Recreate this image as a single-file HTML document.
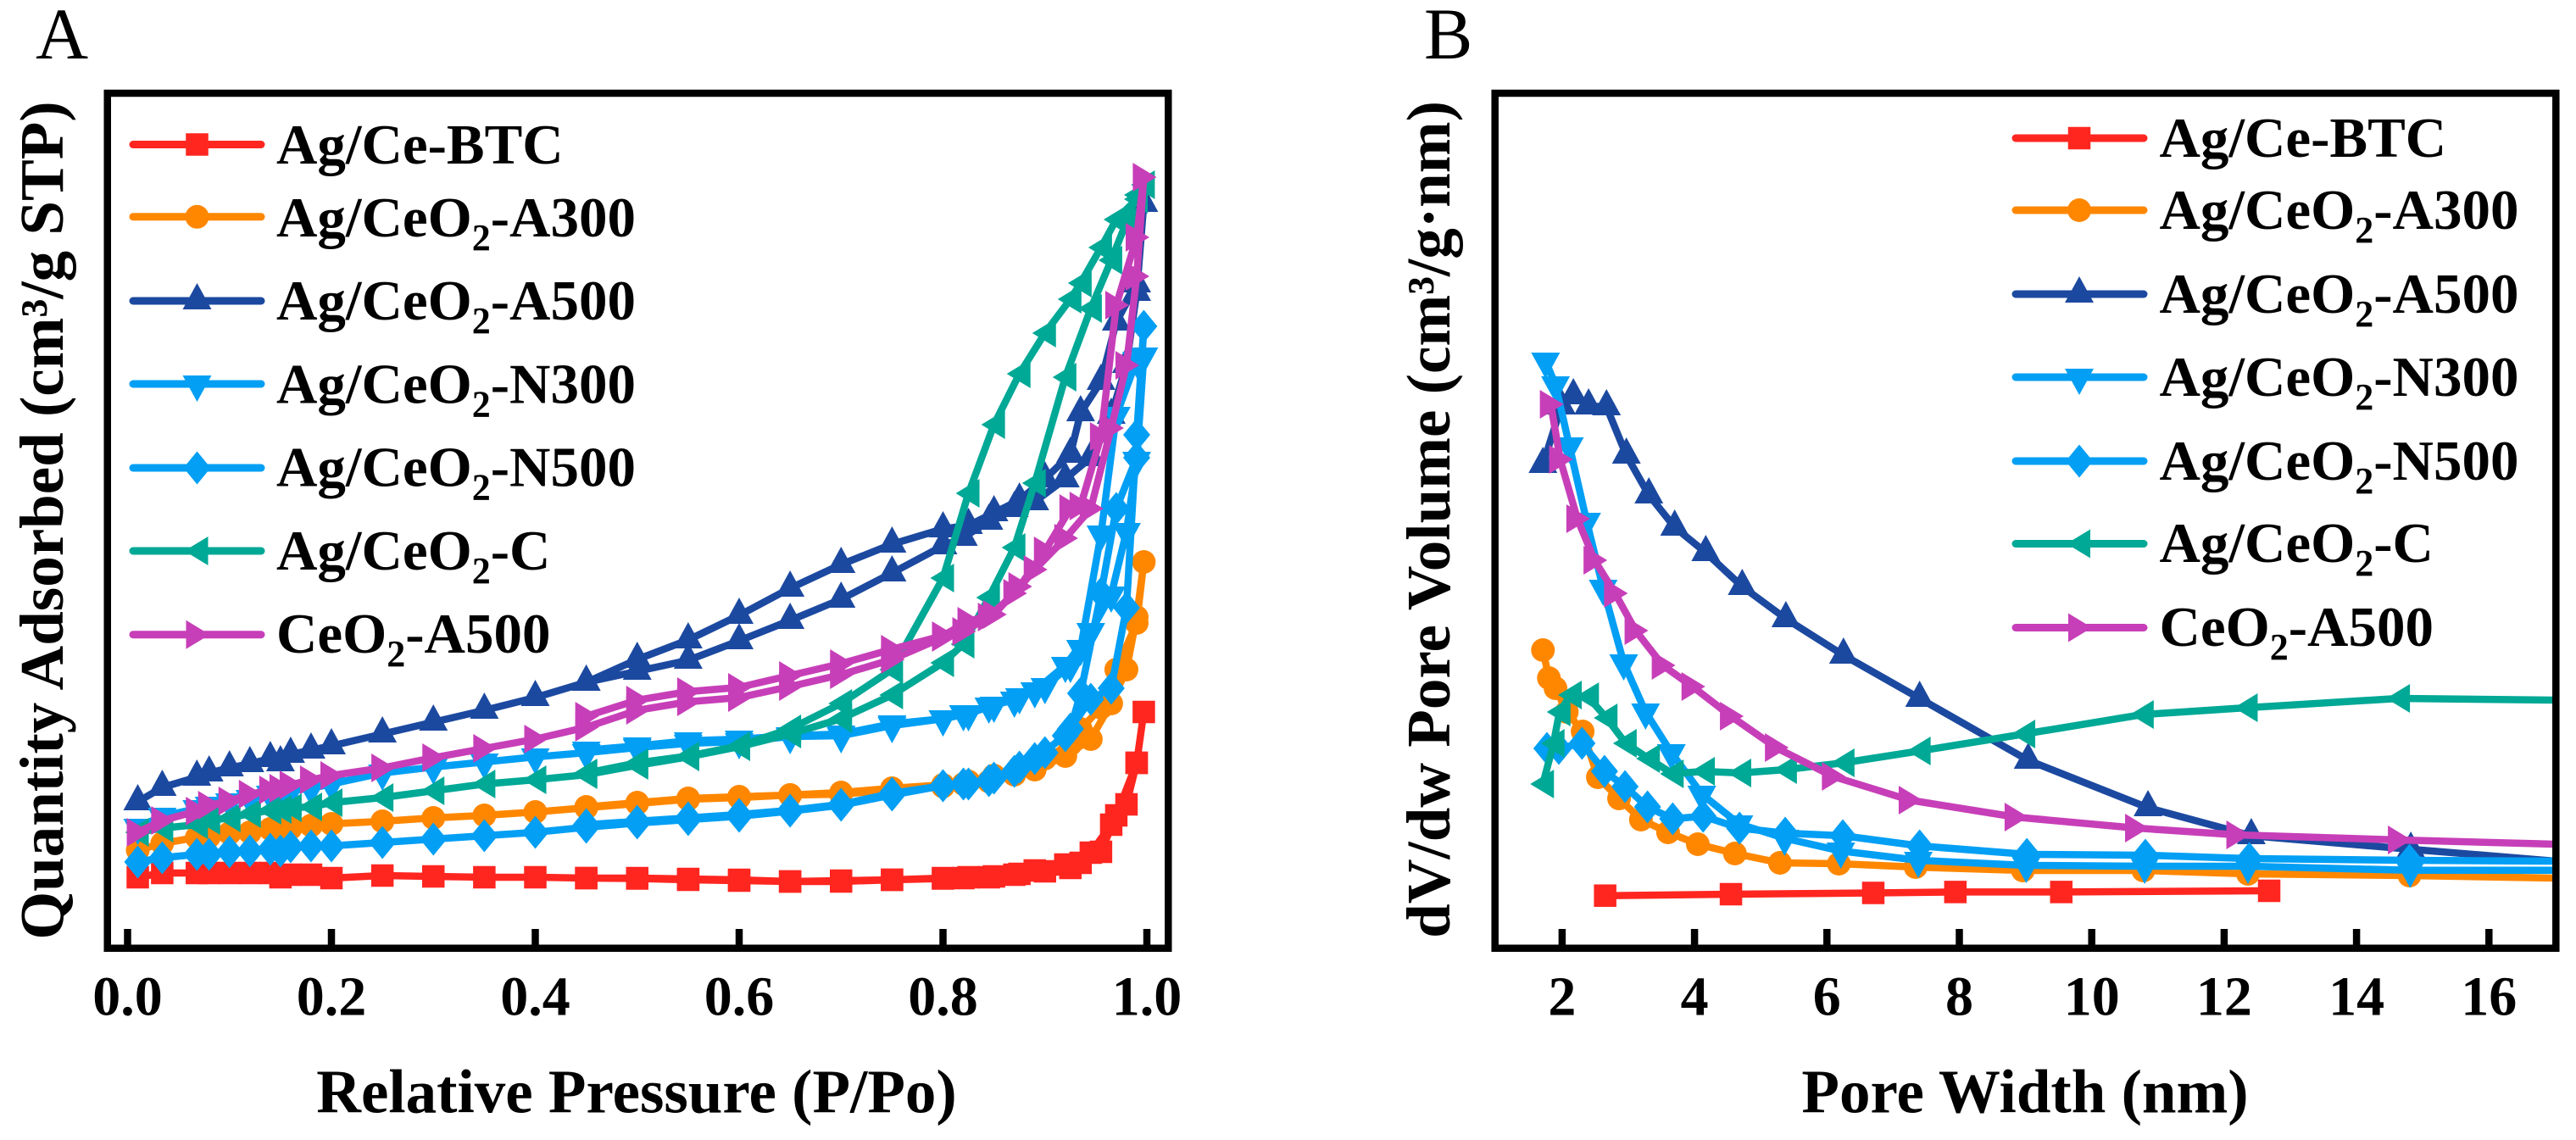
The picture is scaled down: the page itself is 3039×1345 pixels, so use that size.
<!DOCTYPE html>
<html lang="en">
<head>
<meta charset="utf-8">
<title>Isotherms and pore size distribution</title>
<style>
html,body{margin:0;padding:0;background:#fff;width:3039px;height:1345px;overflow:hidden}
svg{display:block}
text{font-family:"Liberation Serif",serif;fill:#000}
.b{font-weight:bold}
.leg{font-weight:bold;font-size:67px}
.sub{font-size:44px}
.title{font-weight:bold;font-size:73px}
.tick{font-weight:bold;font-size:66px;text-anchor:middle}
</style>
</head>
<body>
<svg id="fig" xmlns="http://www.w3.org/2000/svg" width="3039" height="1345" viewBox="0 0 3039 1345">
  <rect x="0" y="0" width="3039" height="1345" fill="#fff"/>
  <text x="42" y="69" font-size="86">A</text>
  <text x="1680" y="69" font-size="86">B</text>

  <g id="plotA"></g>
  <g id="plotB"></g>

  <rect x="126.75" y="110" width="1251.5" height="1008.75" fill="none" stroke="#000" stroke-width="8.5"/>
  <rect x="1763.7" y="110" width="1251.6" height="1008.75" fill="none" stroke="#000" stroke-width="8.5"/>
  <g id="axisA"></g>
  <g id="axisB"></g>

  <text class="title" text-anchor="middle" transform="translate(74,614) rotate(-90)">Quantity Adsorbed (cm³/g STP)</text>
  <text class="title" text-anchor="middle" transform="translate(1710,613) rotate(-90)">dV/dw Pore Volume (cm³/g·nm)</text>
  <text class="title" text-anchor="middle" x="751" y="1312.7">Relative Pressure (P/Po)</text>
  <text class="title" text-anchor="middle" x="2389" y="1312.7">Pore Width (nm)</text>

  <g id="legendA">
    <text class="leg" x="326" y="193">Ag/Ce-BTC</text>
    <text class="leg" x="326" y="279">Ag/CeO<tspan class="sub" dy="16">2</tspan><tspan dy="-16">-A300</tspan></text>
    <text class="leg" x="326" y="377">Ag/CeO<tspan class="sub" dy="16">2</tspan><tspan dy="-16">-A500</tspan></text>
    <text class="leg" x="326" y="475.5">Ag/CeO<tspan class="sub" dy="16">2</tspan><tspan dy="-16">-N300</tspan></text>
    <text class="leg" x="326" y="573.7">Ag/CeO<tspan class="sub" dy="16">2</tspan><tspan dy="-16">-N500</tspan></text>
    <text class="leg" x="326" y="672">Ag/CeO<tspan class="sub" dy="16">2</tspan><tspan dy="-16">-C</tspan></text>
    <text class="leg" x="326" y="770">CeO<tspan class="sub" dy="16">2</tspan><tspan dy="-16">-A500</tspan></text>
  </g>
  <g id="legendB">
    <text class="leg" x="2547.5" y="185">Ag/Ce-BTC</text>
    <text class="leg" x="2547.5" y="270">Ag/CeO<tspan class="sub" dy="16">2</tspan><tspan dy="-16">-A300</tspan></text>
    <text class="leg" x="2547.5" y="369">Ag/CeO<tspan class="sub" dy="16">2</tspan><tspan dy="-16">-A500</tspan></text>
    <text class="leg" x="2547.5" y="467">Ag/CeO<tspan class="sub" dy="16">2</tspan><tspan dy="-16">-N300</tspan></text>
    <text class="leg" x="2547.5" y="566">Ag/CeO<tspan class="sub" dy="16">2</tspan><tspan dy="-16">-N500</tspan></text>
    <text class="leg" x="2547.5" y="663">Ag/CeO<tspan class="sub" dy="16">2</tspan><tspan dy="-16">-C</tspan></text>
    <text class="leg" x="2547.5" y="762">CeO<tspan class="sub" dy="16">2</tspan><tspan dy="-16">-A500</tspan></text>
  </g>
</svg>
<script>
// Panel A: relative pressures
const pAds = [0.01,0.034,0.068,0.08,0.1,0.12,0.14,0.15,0.16,0.18,0.2,0.25,0.3,0.35,0.4,0.45,0.5,0.55,0.6,0.65,0.7,0.75,0.8,0.82,0.845,0.87,0.89,0.92,0.945,0.965,0.98,0.99,0.997];
const pDes = [0.99,0.97,0.955,0.935,0.925,0.9,0.875,0.85,0.825,0.8,0.75,0.7,0.65,0.6,0.55,0.5,0.45];
// Panel A: quantity adsorbed (adsorption, then desorption branch)
const btcAds = [8.5,9,9,9,9,9,9,8.5,8.8,8.8,8.4,8.7,8.6,8.5,8.5,8.4,8.35,8.2,8.1,8,8,8.2,8.35,8.4,8.5,8.8,9.3,10,11.4,14.7,17.1,22,28];
const btcDes = [22,15.8,11.5,10.2,9.6,9.2,8.9,8.6,8.5,8.4,8.2,8.1,8,8.2,8.3,8.4,8.4];
const a300Ads = [11.7,12.5,13.2,13.3,13.7,13.8,14.2,14.1,14.3,14.6,14.8,15.1,15.5,15.8,16.2,16.7,17.2,17.7,17.9,18.2,18.3,18.8,19.2,19.5,19.8,20.6,21.2,22.8,24.8,29,33,39.2,45.7];
const a300Des = [38.5,33,28.5,26,24.2,22.5,21.5,20.5,19.8,19.4,19,18.5,18.2,18,17.8,17.3,16.8];
const a500Ads = [17.4,19.1,20.3,20.8,21.4,21.9,22.5,22,23,23.5,24,25.4,26.8,28.2,29.7,31.5,32.8,34.1,36.4,38.8,41.3,44.4,47.6,48.6,50.5,52,52.8,55.5,58,63,69,77.5,88];
const a500Des = [78.5,74,67,63.3,58.4,55.5,53,51.5,50,49.6,47.8,45.4,42.6,39.4,36.5,34.2,31.5];
const n300Ads = [14.4,15.7,16.6,17,17.4,17.8,18.3,18.4,18.7,19,19.5,20.8,21.5,22.1,22.7,23.2,23.8,24.3,24.5,25.1,25.2,26.4,27.2,27.8,28.7,29.4,30.5,33.5,37.5,41.8,49.3,57.7,70];
const n300Des = [69.5,63,49,35.5,33.5,31,29.8,28.8,27.8,27.2,26.6,25.4,25.2,24.8,24.6,24,23.5];
const n500Ads = [10.3,10.8,11.2,11.2,11.5,11.6,11.8,11.6,12.1,12.2,12.2,12.6,13,13.4,13.8,14.4,14.9,15.3,15.7,16.3,17,18.2,19.3,19.5,19.9,21,22.5,25.2,29.5,30.8,40.3,60.7,73.5];
const n500Des = [58,52,42,30.2,26,23.2,21.5,20.2,19.5,19.3,18.4,17.1,16.4,15.9,15.5,15.1,14.7];
const cAds = [13.8,14.3,14.7,15.2,15.5,16,16.4,16.5,16.7,16.8,17.3,17.9,18.7,19.5,20,20.6,21.7,22.7,23.9,25.4,27.2,30,33.8,36,41.5,47.4,55,67.5,75.6,81.3,85.8,89,90.2];
const cDes = [88.5,86.1,82.8,78.6,76.7,72.7,67.9,61.9,53.8,43.8,33,29,26,24,22.8,22,20.8];
const ceoAds = [13.8,15.2,16.3,17,17.5,18.3,18.8,19,19.4,20,20.5,21.4,22.6,23.7,24.8,26.2,28.2,29.2,29.7,31,32.4,34.2,36.8,37.5,39.2,42,44.8,48.5,52,61.5,68.9,79.4,91.1];
const ceoDes = [84,76,60.5,52.3,52,47,42.8,39.5,38.7,37,35.4,33.7,32.3,30.9,30.4,29.4,27.5];

// Panel B: pore width and pore volume per series
const btcW = [2.65,4.55,6.7,7.94,9.54,12.68];
const btcV = [6.33,6.5,6.65,6.76,6.76,6.9];
const a300W = [1.71,1.8,1.9,2.07,2.31,2.54,2.86,3.19,3.6,4.05,4.61,5.29,6.18,7.34,8.96,10.78,12.36,14.8,17];
const a300V = [35.3,32,30.8,28,25.7,20.3,17.8,15.3,13.8,12.4,11.3,10.2,10.1,9.7,9.3,9.3,8.9,8.7,8.4];
const a500W = [1.71,1.99,2.17,2.4,2.67,2.97,3.31,3.7,4.17,4.72,5.38,6.25,7.4,9.04,10.85,12.41,14.82,17];
const a500V = [57.2,64.1,65.3,64.1,64,58.3,53.6,49.8,46.8,42.8,39,34.7,29.6,22.3,16.7,13.4,11.8,10.4];
const n300W = [1.75,1.9,2.11,2.37,2.62,2.93,3.26,3.65,4.11,4.67,5.36,6.21,7.38,9.01,10.8,12.36,14.81,17];
const n300V = [69.4,66.6,59.4,50.5,42.6,33.8,28,23.2,18.3,14.8,13.1,11.6,10.5,9.9,9.8,9.8,9.32,9.32];
const n500W = [1.77,1.95,2.3,2.64,2.95,3.29,3.67,4.13,4.68,5.37,6.24,7.4,9.02,10.81,12.38,14.8,17];
const n500V = [23.7,23.7,24.3,21,19.2,16.8,15.4,15.7,14.3,13.7,13.4,12.2,11.2,11.1,10.7,10.5,10.4];
const cW = [1.71,1.87,1.96,2.13,2.39,2.67,2.96,3.31,3.67,4.14,4.69,5.38,6.25,7.4,8.98,10.77,12.34,14.64,17];
const cV = [19.5,24.3,28,30,29.8,27.3,24.3,22.5,20.7,21,20.8,21.2,22,23.4,25.4,27.7,28.5,29.6,29.4];
const ceoW = [1.83,1.97,2.23,2.49,2.8,3.11,3.52,3.97,4.55,5.23,6.09,7.25,8.85,10.67,12.2,14.64,17];
const ceoV = [64.3,57.8,50.8,45.9,42,37.6,33.5,31,27.5,23.8,20.4,17.6,15.6,14.3,13.5,12.9,12.4];

// Tick labels
const tickA = [0,0.2,0.4,0.6,0.8,1];
const tickB = [2,4,6,8,10,12,14,16];
const widthAxisMax = 17;

const NS = 'http://www.w3.org/2000/svg';
const xA = function(p){ return 150.5 + p * 1202.5; };
const xB = function(w){ return 2467.7 + (w - 10) * 78.1; };
const yV = function(v){ return 1120 - v * 10; };

const styles = [
  {id:'ag-ce-btc', color:'#FF2620', shape:'square'},
  {id:'a300', color:'#FF8700', shape:'circle'},
  {id:'a500', color:'#1C49A0', shape:'up'},
  {id:'n300', color:'#039FF4', shape:'down'},
  {id:'n500', color:'#039FF4', shape:'diamond'},
  {id:'c', color:'#00A896', shape:'left'},
  {id:'ceo2-a500', color:'#C73FB8', shape:'right'}
];
const isotherms = [[btcAds,btcDes],[a300Ads,a300Des],[a500Ads,a500Des],[n300Ads,n300Des],[n500Ads,n500Des],[cAds,cDes],[ceoAds,ceoDes]];
const poreWidths = [btcW,a300W,a500W,n300W,n500W,cW,ceoW];
const poreValues = [btcV,a300V,a500V,n300V,n500V,cV,ceoV];

function make(tag, parent){
  const el = document.createElementNS(NS, tag);
  parent.appendChild(el);
  return el;
}
function marker(parent, shape, x, y, color){
  let el;
  if(shape === 'square'){
    el = make('rect', parent);
    el.setAttribute('x', x - 13.25);
    el.setAttribute('y', y - 13.25);
    el.setAttribute('width', 26.5);
    el.setAttribute('height', 26.5);
  } else if(shape === 'circle'){
    el = make('circle', parent);
    el.setAttribute('cx', x);
    el.setAttribute('cy', y);
    el.setAttribute('r', 14);
  } else {
    let pts;
    if(shape === 'up') pts = [[0,-21],[17,10],[-17,10]];
    if(shape === 'down') pts = [[0,21],[17,-10],[-17,-10]];
    if(shape === 'diamond') pts = [[0,-19.5],[16,0],[0,19.5],[-16,0]];
    if(shape === 'left') pts = [[-15,0],[13,-17],[13,17]];
    if(shape === 'right') pts = [[15,0],[-13,-17],[-13,17]];
    el = make('polygon', parent);
    el.setAttribute('points', pts.map(function(q){ return (x + q[0]) + ',' + (y + q[1]); }).join(' '));
  }
  el.setAttribute('fill', color);
  
  
  return el;
}
// xMaxPx: a point sitting on the axis limit is only a line end, no symbol is drawn there
function drawSeries(parent, style, xs, ys, xMaxPx){
  const g = make('g', parent);
  
  
  const line = make('polyline', g);
  line.setAttribute('points', xs.map(function(x, i){ return x + ',' + ys[i]; }).join(' '));
  line.setAttribute('fill', 'none');
  line.setAttribute('stroke', style.color);
  line.setAttribute('stroke-width', 8.5);
  line.setAttribute('stroke-linejoin', 'round');
  
  
  xs.forEach(function(x, i){
    if(x < xMaxPx) marker(g, style.shape, x, ys[i], style.color);
  });
}
function drawAxis(parent, ticks, xf, fmt){
  ticks.forEach(function(t){
    const mark = make('line', parent);
    mark.setAttribute('x1', xf(t));
    mark.setAttribute('x2', xf(t));
    mark.setAttribute('y1', 1096);
    mark.setAttribute('y2', 1116);
    mark.setAttribute('stroke', '#000');
    mark.setAttribute('stroke-width', 8.5);
    
    
    const label = make('text', parent);
    label.setAttribute('class', 'tick');
    label.setAttribute('x', xf(t));
    label.setAttribute('y', 1197.4);
    label.textContent = fmt(t);
    
    
  });
}
function drawLegend(parent, lineYs, x1, x2, mx){
  styles.forEach(function(style, i){
    const g = make('g', parent);
    
    
    const l = make('line', g);
    l.setAttribute('x1', x1);
    l.setAttribute('x2', x2);
    l.setAttribute('y1', lineYs[i]);
    l.setAttribute('y2', lineYs[i]);
    l.setAttribute('stroke', style.color);
    l.setAttribute('stroke-width', 9);
    l.setAttribute('stroke-linecap', 'round');
    
    
    marker(g, style.shape, mx, lineYs[i], style.color);
  });
}

const plotA = document.getElementById('plotA');
styles.forEach(function(style, i){
  const xs = pAds.concat(pDes).map(xA);
  const ys = isotherms[i][0].concat(isotherms[i][1]).map(yV);
  drawSeries(plotA, style, xs, ys, Infinity);
});
const plotB = document.getElementById('plotB');
styles.forEach(function(style, i){
  drawSeries(plotB, style, poreWidths[i].map(xB), poreValues[i].map(yV), xB(widthAxisMax));
});
drawAxis(document.getElementById('axisA'), tickA, xA, function(t){ return t.toFixed(1); });
drawAxis(document.getElementById('axisB'), tickB, xB, function(t){ return String(t); });
drawLegend(document.getElementById('legendA'), [170.5,255.8,355,453,552,650,748.7], 157, 308, 232.5);
drawLegend(document.getElementById('legendB'), [163,248,347,445,544,641.5,740.5], 2378, 2529, 2453);
</script>
</body>
</html>
